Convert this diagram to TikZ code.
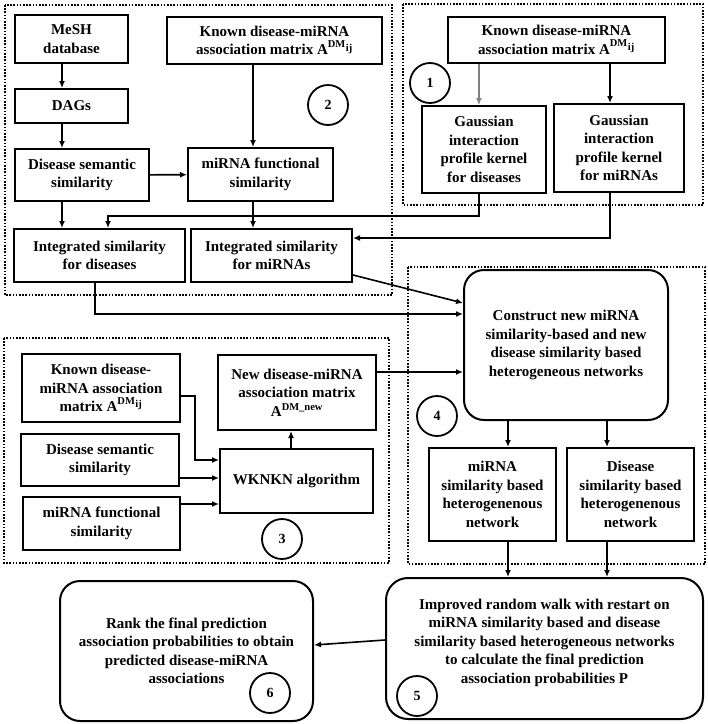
\documentclass[tikz,border=0pt]{standalone}
\usepackage{fontspec}
\setmainfont{Liberation Serif}
\usetikzlibrary{arrows.meta}

\newcommand{\Adm}{A\textsuperscript{DM\raisebox{-0.75ex}{\kern0.5pt ij}}}

\begin{document}
\begin{tikzpicture}[x=1pt,y=-1pt,
  font=\fontsize{15}{18.5}\selectfont\bfseries,
  box/.style={draw, line width=2pt, align=center, inner sep=2pt},
  rbox/.style={box, rounded corners=20pt},
  num/.style={draw, circle, line width=1.8pt, minimum size=40pt, inner sep=0pt, font=\fontsize{14}{16}\selectfont\bfseries},
  group/.style={draw, line width=1.8pt, dash pattern=on 1.6pt off 1.6pt},
  arr/.style={draw, line width=1.6pt, -{Latex[length=7pt,width=6pt]}}]
\useasboundingbox (0,0) rectangle (708,724);

% dotted groups
\draw[group] (5,5) rectangle (392,295);
\draw[group] (403,4) rectangle (703,205);
\draw[group] (408,267) rectangle (705,564);
\draw[group] (4,338) rectangle (389,563);

% group 2
\node[box, minimum width=113pt, minimum height=48pt] (mesh) at (71.5,39) {MeSH\\database};
\node[box, minimum width=113pt, minimum height=34pt] (dags) at (71.5,106) {DAGs};
\node[box, minimum width=134pt, minimum height=52pt] (dss) at (82,175) {Disease semantic\\similarity};
\node[box, minimum width=215pt, minimum height=47pt] (known2) at (274.5,40.5) {Known disease-miRNA\\association matrix \Adm};
\node[box, minimum width=145pt, minimum height=53pt] (mfs) at (260.5,174.5) {miRNA functional\\similarity};
\node[box, minimum width=171pt, minimum height=53pt] (intd) at (99.5,255.5) {Integrated similarity\\for diseases};
\node[box, minimum width=161pt, minimum height=53pt] (intm) at (271.5,255.5) {Integrated similarity\\for miRNAs};
\node[num] (n2) at (328,105) {2};

% group 1
\node[box, minimum width=217pt, minimum height=46pt] (known1) at (556.5,40) {Known disease-miRNA\\association matrix \Adm};
\node[box, minimum width=124pt, minimum height=87pt] (gkd) at (484,149.5) {Gaussian\\interaction\\profile kernel\\for diseases};
\node[box, minimum width=130pt, minimum height=88pt] (gkm) at (619,148) {Gaussian\\interaction\\profile kernel\\for miRNAs};
\node[num] (n1) at (430,83) {1};

% group 4
\node[rbox, minimum width=204pt, minimum height=150pt] (construct) at (566,345) {Construct new miRNA\\similarity-based and new\\disease similarity based\\heterogeneous networks};
\node[box, minimum width=127pt, minimum height=93pt] (msh) at (492.5,494.5) {miRNA\\similarity based\\heterogenenous\\network};
\node[box, minimum width=127pt, minimum height=93pt] (dsh) at (630.5,494.5) {Disease\\similarity based\\heterogenenous\\network};
\node[num] (n4) at (437,416) {4};

% group 3
\node[box, minimum width=158pt, minimum height=68pt] (known3) at (101,388) {Known disease-\\miRNA association\\matrix \Adm};
\node[box, minimum width=158pt, minimum height=52pt] (dss3) at (100,460) {Disease semantic\\similarity};
\node[box, minimum width=157pt, minimum height=53pt] (mfs3) at (101.5,523.5) {miRNA functional\\similarity};
\node[box, minimum width=153pt, minimum height=64pt] (wknkn) at (296.5,481) {WKNKN algorithm};
\node[box, minimum width=158pt, minimum height=75pt] (newm) at (297,392.5) {New disease-miRNA\\association matrix\\A\textsuperscript{DM\_new}};
\node[num] (n3) at (282,539) {3};

% steps 5 and 6
\node[rbox, rounded corners=22pt, minimum width=317pt, minimum height=141pt] (walk) at (544.5,648.5) {Improved random walk with restart on\\miRNA similarity based and disease\\similarity based heterogeneous networks\\to calculate the final prediction\\association probabilities P\\[-4pt]\mbox{}};
\node[rbox, minimum width=253pt, minimum height=140pt] (rank) at (186.5,651) {Rank the final prediction\\association probabilities to obtain\\predicted disease-miRNA\\associations};
\node[num] (n5) at (417,696) {5};
\node[num] (n6) at (270,693) {6};

% connector columns and rows
\coordinate (c1) at (62,0);
\coordinate (c2) at (95,314);
\coordinate (c3) at (0,372);
\coordinate (c4) at (508,0);
\coordinate (c5) at (607,0);
\coordinate (c6) at (195,460);
\coordinate (c7) at (0,478);
\coordinate (c8) at (0,504);
\coordinate (c9) at (291,0);
\coordinate (k2) at (253,0);
\coordinate (g1) at (479,216);
\coordinate (g2) at (610,238);

\path[arr] (mesh.south -| c1) -- (dags.north -| c1);
\path[arr] (dags.south -| c1) -- (dss.north -| c1);
\path[arr] (dss.south -| c1) -- (intd.north -| c1);
\path[arr] (known2.south -| k2) -- (mfs.north -| k2);
\path[arr] (dss) -- (mfs);
\path[arr] (mfs.south -| k2) -- (intm.north -| k2);
\path[arr, gray] (known1.south -| g1) -- (gkd.north -| g1);
\path[arr] (known1.south -| g2) -- (gkm.north -| g2);
\path[arr] (gkd.south -| g1) -- (g1) -| ([xshift=8.5pt]intd.north);
\path[arr] (gkm.south -| g2) -- (g2) -- (intm.east |- g2);
\path[arr] (intd.south -| c2) |- (construct.west |- c2);
\path[arr] ([yshift=-19.5pt]intm.east) -- ([yshift=42pt]construct.west);
\path[arr] (newm.east |- c3) -- (construct.west |- c3);
\path[arr] (construct.south -| c4) -- (msh.north -| c4);
\path[arr] (construct.south -| c5) -- (dsh.north -| c5);
\path[arr] (msh.south -| c4) -- (walk.north -| c4);
\path[arr] (dsh.south -| c5) -- (walk.north -| c5);
\path[arr] ([yshift=8.5pt]walk.west) -- ([yshift=6pt]rank.east);
\path[arr] ([yshift=-8pt]known3.east) -| (c6) -- (wknkn.west |- c6);
\path[arr] (dss3.east |- c7) -- (wknkn.west |- c7);
\path[arr] (mfs3.east |- c8) -- (wknkn.west |- c8);
\path[arr] (wknkn.north -| c9) -- (newm.south -| c9);
\end{tikzpicture}
\end{document}
